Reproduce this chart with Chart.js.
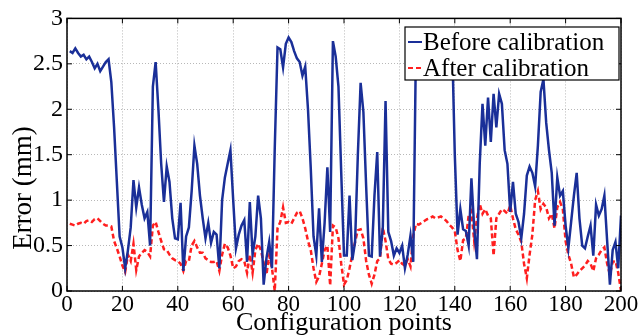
<!DOCTYPE html>
<html>
<head>
<meta charset="utf-8">
<script src="https://cdn.jsdelivr.net/npm/chart.js@4.4.1/dist/chart.umd.min.js"></script>
<style>
  html, body { margin: 0; padding: 0; background: #fff; }
  #wrap { width: 639px; height: 336px; }
</style>
</head>
<body>
<div id="wrap"><canvas id="errChart" width="639" height="336"></canvas></div>
<script>
// error per configuration point (mm), points 1..200
const beforeCalibration = [
  2.64, 2.62, 2.67, 2.62, 2.58, 2.60, 2.55, 2.58, 2.52, 2.45,
  2.50, 2.42, 2.47, 2.52, 2.55, 2.30, 1.80, 1.20, 0.60, 0.48,
  0.25, 0.45, 0.70, 1.22, 0.92, 1.14, 0.95, 0.80, 0.87, 0.50,
  2.25, 2.52, 2.00, 1.40, 0.98, 1.37, 1.20, 0.80, 0.58, 0.57,
  0.97, 0.22, 0.60, 0.70, 1.10, 1.60, 1.40, 1.05, 0.80, 0.58,
  0.75, 0.53, 0.65, 0.62, 0.25, 1.00, 1.25, 1.40, 1.55, 1.00,
  0.47, 0.62, 0.72, 0.78, 0.32, 0.98, 0.40, 0.60, 1.05, 0.80,
  0.07, 0.36, 0.54, 0.25, 1.57, 2.68, 2.66, 2.46, 2.72, 2.79,
  2.74, 2.64, 2.56, 2.52, 2.37, 2.47, 2.00, 1.35, 0.60, 0.39,
  0.91, 0.32, 0.75, 1.36, 0.65, 2.75, 2.58, 2.25, 1.30, 0.39,
  0.39, 1.05, 0.34, 0.54, 1.50, 2.29, 1.97, 1.15, 0.39, 0.38,
  1.05, 1.53, 0.38, 0.69, 2.09, 0.65, 0.55, 0.39, 0.47, 0.42,
  0.50, 0.25, 0.40, 0.61, 0.32, 2.75, 2.60, 2.70, 2.55, 2.75,
  2.65, 2.50, 2.70, 2.65, 2.55, 2.70, 2.60, 2.75, 2.78, 1.50,
  0.62, 0.90, 0.68, 0.66, 0.50, 1.24, 0.69, 0.35, 1.40, 2.06,
  1.60, 2.13, 1.64, 2.17, 1.80, 2.17, 2.06, 1.55, 1.40, 0.87,
  1.20, 0.85, 0.76, 0.58, 0.85, 1.27, 1.37, 1.30, 1.15, 1.60,
  2.19, 2.33, 1.85, 1.55, 1.30, 0.72, 1.25, 1.05, 1.10, 0.72,
  0.47, 0.76, 1.05, 1.30, 0.80, 0.50, 0.47, 0.60, 0.72, 0.39,
  0.95, 0.83, 0.90, 1.05, 0.55, 0.07, 0.45, 0.54, 0.25, 0.83
];
const afterCalibration = [
  0.74, 0.73, 0.72, 0.74, 0.75, 0.74, 0.77, 0.78, 0.76, 0.79,
  0.80, 0.77, 0.74, 0.72, 0.72, 0.71, 0.55, 0.47, 0.38, 0.28,
  0.21, 0.40, 0.33, 0.52, 0.23, 0.38, 0.42, 0.45, 0.43, 0.38,
  0.72, 0.76, 0.65, 0.55, 0.46, 0.45, 0.40, 0.36, 0.34, 0.33,
  0.30, 0.22, 0.33, 0.33, 0.50, 0.55, 0.48, 0.42, 0.42, 0.36,
  0.34, 0.32, 0.32, 0.33, 0.22, 0.40, 0.52, 0.48, 0.39, 0.25,
  0.27, 0.33, 0.35, 0.33, 0.20, 0.40, 0.20, 0.45, 0.52, 0.45,
  0.31, 0.18, 0.39, 0.25, 0.00, 0.69, 0.76, 0.92, 0.75, 0.76,
  0.74, 0.80, 0.86, 0.88, 0.80, 0.69, 0.55, 0.45, 0.25, 0.10,
  0.16, 0.30, 0.45, 0.50, 0.06, 0.72, 0.70, 0.58, 0.30, 0.07,
  0.12, 0.25, 0.40, 0.54, 0.67, 0.68, 0.58, 0.33, 0.18, 0.08,
  0.18, 0.33, 0.36, 0.70, 0.55, 0.35, 0.30, 0.29, 0.31, 0.34,
  0.30, 0.28, 0.35, 0.27, 0.61, 0.74, 0.73, 0.75, 0.77, 0.79,
  0.80, 0.82, 0.80, 0.81, 0.82, 0.80, 0.77, 0.73, 0.70, 0.66,
  0.45, 0.33, 0.56, 0.58, 0.83, 0.88, 0.55, 0.80, 0.96, 0.85,
  0.90, 0.83, 0.80, 0.39, 0.80, 0.85, 0.90, 0.88, 0.85, 0.94,
  0.80, 0.68, 0.62, 0.54, 0.30, 0.14, 0.40, 0.62, 1.00, 1.10,
  0.90, 0.96, 0.92, 0.80, 0.85, 0.69, 0.92, 0.98, 0.90, 0.55,
  0.40, 0.30, 0.15, 0.18, 0.22, 0.25, 0.28, 0.33, 0.30, 0.22,
  0.36, 0.40, 0.45, 0.48, 0.30, 0.18, 0.32, 0.33, 0.20, 0.00
];
const seriesNames = ['Before calibration', 'After calibration'];
const yTitle = 'Error (mm)';

const serif = "'Liberation Serif', 'DejaVu Serif', serif";
const blue = '#1a2f98';
const red = '#ff1f1f';

const toPoints = vals => vals.map((v, i) => ({ x: i + 1, y: v }));

// MATLAB-ish box, inward ticks, y title and the legend inside the axes
const matlabBox = {
    id: 'matlabBox',
    afterDatasetsDraw(chart) {
        const { ctx, chartArea: a, scales } = chart;
        ctx.save();
        ctx.setLineDash([]);
        ctx.strokeStyle = '#000';
        ctx.lineWidth = 1.5;
        ctx.strokeRect(a.left, a.top, a.right - a.left, a.bottom - a.top);

        ctx.lineWidth = 1;
        const tl = 5;
        scales.x.ticks.forEach(t => {
            const px = scales.x.getPixelForValue(t.value);
            ctx.beginPath();
            ctx.moveTo(px, a.bottom); ctx.lineTo(px, a.bottom - tl);
            ctx.moveTo(px, a.top); ctx.lineTo(px, a.top + tl);
            ctx.stroke();
        });
        scales.y.ticks.forEach(t => {
            const py = scales.y.getPixelForValue(t.value);
            ctx.beginPath();
            ctx.moveTo(a.left, py); ctx.lineTo(a.left + tl, py);
            ctx.moveTo(a.right, py); ctx.lineTo(a.right - tl, py);
            ctx.stroke();
        });

        // legend box
        const bx = 405, by = 27, bw = 214, bh = 53;
        ctx.fillStyle = '#fff';
        ctx.fillRect(bx, by, bw, bh);
        ctx.strokeStyle = '#000';
        ctx.lineWidth = 1.2;
        ctx.strokeRect(bx, by, bw, bh);

        const rows = [
            { y: 42, color: blue, dash: [], name: seriesNames[0] },
            { y: 68, color: red, dash: [5, 3], name: seriesNames[1] }
        ];
        ctx.font = '25px ' + serif;
        ctx.textBaseline = 'middle';
        ctx.textAlign = 'left';
        rows.forEach(r => {
            ctx.beginPath();
            ctx.setLineDash(r.dash);
            ctx.strokeStyle = r.color;
            ctx.lineWidth = 2;
            ctx.moveTo(408, r.y); ctx.lineTo(422, r.y);
            ctx.stroke();
            ctx.fillStyle = '#000';
            ctx.fillText(r.name, 423, r.y + 1);
        });

        // y axis title, sits a bit below the middle like in the figure
        ctx.translate(24, 188);
        ctx.rotate(-Math.PI / 2);
        ctx.font = '27px ' + serif;
        ctx.textAlign = 'center';
        ctx.fillStyle = '#000';
        ctx.fillText(yTitle, 0, 0);
        ctx.restore();
    }
};

new Chart(document.getElementById('errChart'), {
    type: 'line',
    data: {
        datasets: [{
            label: seriesNames[0],
            data: toPoints(beforeCalibration),
            borderColor: blue,
            borderWidth: 2.5,
            pointRadius: 0,
            tension: 0,
            fill: false
        }, {
            label: seriesNames[1],
            data: toPoints(afterCalibration),
            borderColor: red,
            borderWidth: 2.5,
            borderDash: [5, 3],
            pointRadius: 0,
            tension: 0,
            fill: false
        }]
    },
    options: {
        responsive: false,
        animation: false,
        layout: { padding: { top: 17, right: 18, left: 0, bottom: 0 } },
        plugins: {
            legend: { display: false },
            tooltip: { enabled: false }
        },
        scales: {
            x: {
                type: 'linear',
                min: 0,
                max: 200,
                ticks: {
                    stepSize: 20,
                    color: '#000',
                    padding: 0,
                    maxRotation: 0,
                    font: { family: serif, size: 23 }
                },
                grid: { color: '#b8b8b8', lineWidth: 1, drawTicks: false },
                border: { display: false, dash: [1, 2] },
                title: {
                    display: true,
                    text: 'Configuration points',
                    color: '#000',
                    font: { family: serif, size: 26, lineHeight: 1 },
                    padding: { top: 0, bottom: 0 }
                },
                afterFit: s => { s.height = 45; }
            },
            y: {
                min: 0,
                max: 3,
                ticks: {
                    stepSize: 0.5,
                    color: '#000',
                    padding: 4,
                    font: { family: serif, size: 24 },
                    callback: v => String(Number(v.toFixed(1)))
                },
                grid: { color: '#b8b8b8', lineWidth: 1, drawTicks: false },
                border: { display: false, dash: [1, 2] },
                afterFit: s => { s.width = 67; }
            }
        }
    },
    plugins: [matlabBox]
});
</script>
</body>
</html>
